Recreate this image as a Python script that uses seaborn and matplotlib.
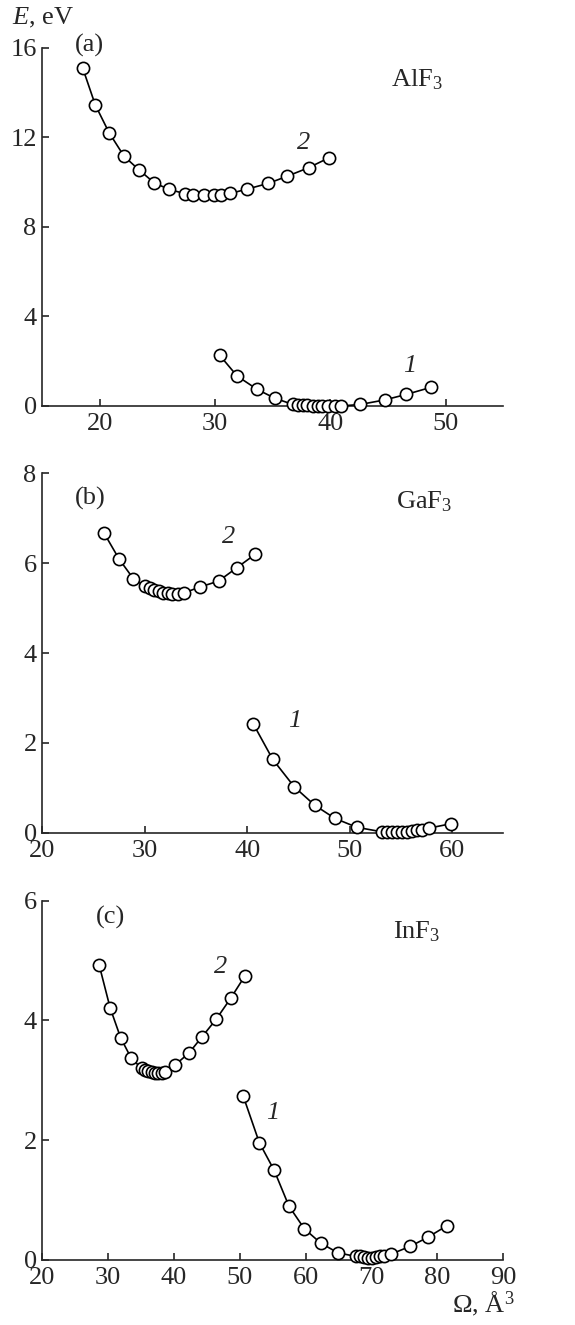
import numpy as np
import pandas as pd
import matplotlib
matplotlib.use("Agg")
import matplotlib.pyplot as plt
import seaborn as sns

# ---- data ----
a2_x = [18.5, 19.6, 20.8, 22.1, 23.4, 24.7, 26.0, 27.4, 28.1, 29.0, 29.9, 30.5, 31.3, 32.8, 34.6, 36.2, 38.1, 39.9]
a2_y = [15.10, 13.44, 12.20, 11.15, 10.54, 9.97, 9.67, 9.48, 9.42, 9.42, 9.42, 9.42, 9.49, 9.69, 9.94, 10.25, 10.64, 11.09]
a1_x = [30.4, 31.9, 33.65, 35.2, 36.75, 37.2, 37.6, 38.0, 38.45, 38.9, 39.3, 39.8, 40.4, 40.9, 42.6, 44.7, 46.6, 48.7]
a1_y = [2.26, 1.34, 0.74, 0.34, 0.07, 0.06, 0.04, 0.03, 0.02, 0.01, 0.0, 0.0, 0.0, 0.0, 0.07, 0.27, 0.52, 0.83]

b2_x = [26.0, 27.5, 28.9, 30.0, 30.5, 30.9, 31.4, 31.8, 32.3, 32.7, 33.2, 33.85, 35.4, 37.2, 39.0, 40.8]
b2_y = [6.68, 6.09, 5.65, 5.49, 5.44, 5.40, 5.37, 5.34, 5.33, 5.32, 5.32, 5.34, 5.47, 5.60, 5.90, 6.20]
b1_x = [40.6, 42.5, 44.6, 46.6, 48.55, 50.7, 53.15, 53.6, 54.1, 54.6, 55.1, 55.6, 56.1, 56.6, 57.1, 57.7, 59.9]
b1_y = [2.42, 1.63, 1.02, 0.61, 0.32, 0.12, 0.02, 0.01, 0.01, 0.01, 0.01, 0.02, 0.03, 0.05, 0.07, 0.10, 0.20]

c2_x = [28.65, 30.3, 31.9, 33.5, 35.1, 35.6, 36.1, 36.6, 37.1, 37.6, 38.1, 38.6, 40.2, 42.3, 44.2, 46.4, 48.6, 50.8]
c2_y = [4.92, 4.21, 3.71, 3.37, 3.20, 3.17, 3.16, 3.14, 3.13, 3.13, 3.13, 3.14, 3.26, 3.46, 3.72, 4.02, 4.37, 4.75]
c1_x = [50.5, 52.95, 55.2, 57.45, 59.8, 62.3, 64.9, 67.6, 68.2, 68.8, 69.4, 70.05, 70.7, 71.3, 71.9, 73.0, 75.9, 78.55, 81.4]
c1_y = [2.74, 1.96, 1.50, 0.90, 0.52, 0.28, 0.12, 0.06, 0.06, 0.05, 0.04, 0.04, 0.05, 0.06, 0.07, 0.10, 0.23, 0.38, 0.57]

panel_letters = ["(a)", "(b)", "(c)"]
compounds = ["AlF$_3$", "GaF$_3$", "InF$_3$"]
xlims = [(15, 55), (20, 65), (20, 90)]
ylims = [(0, 16), (0, 8), (0, 6)]
xticks = [[20, 30, 40, 50], [20, 30, 40, 50, 60], [20, 30, 40, 50, 60, 70, 80, 90]]
yticks = [[0, 4, 8, 12, 16], [0, 2, 4, 6, 8], [0, 2, 4, 6]]
letter_pos = [(19.1, 16.1), (24.7, 7.44), (30.3, 5.72)]
compound_pos = [(47.5, 14.55), (57.3, 7.37), (76.8, 5.48)]
lab2_pos = [(37.7, 11.73), (38.2, 6.58), (47.0, 4.9)]
lab1_pos = [(46.9, 1.79), (44.6, 2.49), (55.0, 2.45)]

curves = [((a1_x, a1_y), (a2_x, a2_y)),
          ((b1_x, b1_y), (b2_x, b2_y)),
          ((c1_x, c1_y), (c2_x, c2_y))]

# ---- style ----
sns.set_style("ticks")
plt.rcParams["font.family"] = ["Liberation Serif", "DejaVu Serif"]
plt.rcParams["mathtext.fontset"] = "custom"
plt.rcParams["mathtext.rm"] = "Liberation Serif"
plt.rcParams["mathtext.it"] = "Liberation Serif:italic"
plt.rcParams["axes.linewidth"] = 1.2

FS = 19
W, H = 575, 1325
fig = plt.figure(figsize=(W / 100, H / 100), dpi=100)

left = 42.3 / W
width = (503.3 - 42.3) / W
tops = [47.7, 473.3, 900.7]
bots = [406.0, 832.7, 1260.0]

for i in range(3):
    ax = fig.add_axes([left, 1 - bots[i] / H, width, (bots[i] - tops[i]) / H])
    for (cx, cy) in curves[i]:
        df = pd.DataFrame({"x": cx, "y": cy})
        sns.lineplot(data=df, x="x", y="y", ax=ax, sort=False, estimator=None,
                     color="black", linewidth=1.2, marker="o", markersize=8.8,
                     markerfacecolor="white", markeredgecolor="black",
                     markeredgewidth=1.2, clip_on=False, zorder=3)
    ax.set_xlim(*xlims[i])
    ax.set_ylim(*ylims[i])
    ax.set_xticks(xticks[i])
    ax.set_yticks(yticks[i])
    ax.set_xlabel("")
    ax.set_ylabel("")
    sns.despine(ax=ax)
    ax.tick_params(direction="in", length=5, width=1.2, labelsize=FS, pad=4)
    ax.tick_params(axis="x", pad=5)
    ax.text(*letter_pos[i], panel_letters[i], fontsize=FS, ha="center", va="center")
    ax.text(*compound_pos[i], compounds[i], fontsize=FS, ha="center", va="center")
    ax.text(*lab2_pos[i], "2", fontsize=FS, style="italic", ha="center", va="center")
    ax.text(*lab1_pos[i], "1", fontsize=FS, style="italic", ha="center", va="center")

fig.text(12 / W, 1 - 18 / H, "$\\it{E}$, eV", fontsize=FS, ha="left", va="center")
fig.text(515 / W, 1 - 1304 / H, "Ω, Å$^3$", fontsize=FS, ha="right", va="center")

fig.savefig("out.png", dpi=100)
